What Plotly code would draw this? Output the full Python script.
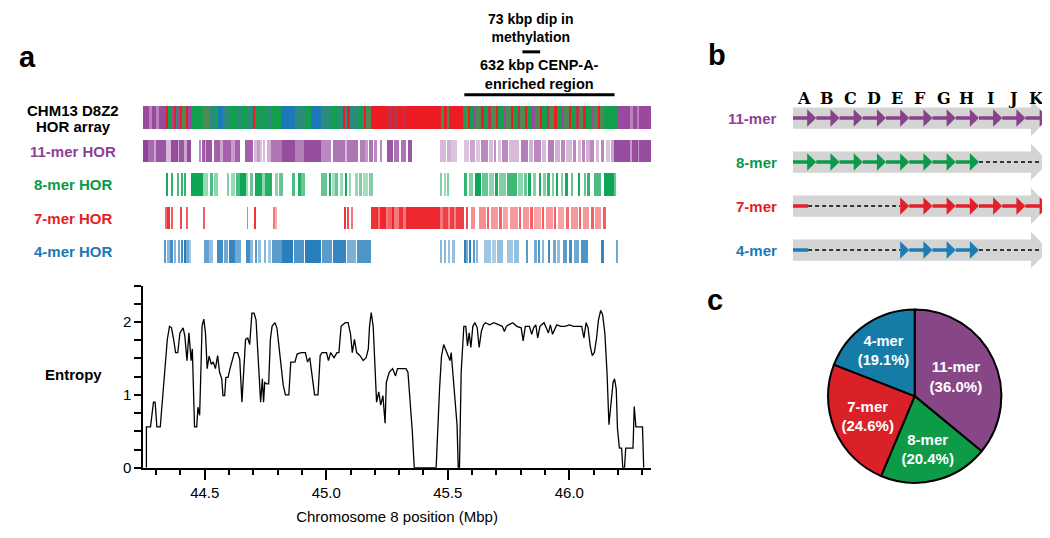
import numpy as np
import plotly.graph_objects as go

# ---------------------------------------------------------------- data
X_RANGE = [44.246, 46.336]          # Chromosome 8 position (Mbp)

entropy_pos = [
    44.260, 44.260, 44.277, 44.282, 44.289, 44.296, 44.303, 44.317, 44.329, 44.337,
    44.346, 44.355, 44.363, 44.372, 44.380, 44.389, 44.398, 44.411, 44.418, 44.427,
    44.435, 44.444, 44.449, 44.458, 44.467, 44.472, 44.479, 44.484, 44.489, 44.496,
    44.503, 44.510, 44.518, 44.527, 44.535, 44.544, 44.553, 44.561, 44.570, 44.575,
    44.582, 44.587, 44.596, 44.604, 44.613, 44.622, 44.635, 44.644, 44.653, 44.659,
    44.668, 44.677, 44.685, 44.694, 44.703, 44.711, 44.718, 44.725, 44.730, 44.737,
    44.742, 44.747, 44.756, 44.763, 44.770, 44.777, 44.789, 44.797, 44.806, 44.814,
    44.823, 44.832, 44.846, 44.854, 44.871, 44.880, 44.897, 44.914, 44.923, 44.932,
    44.944, 44.952, 44.966, 44.975, 44.983, 45.001, 45.009, 45.018, 45.032, 45.044,
    45.052, 45.061, 45.078, 45.090, 45.100, 45.107, 45.116, 45.125, 45.138, 45.152,
    45.164, 45.173, 45.178, 45.185, 45.193, 45.202, 45.207, 45.216, 45.224, 45.233,
    45.242, 45.247, 45.259, 45.273, 45.285, 45.293, 45.305, 45.319, 45.328, 45.336,
    45.345, 45.354, 45.362, 45.452, 45.466, 45.474, 45.483, 45.491, 45.500, 45.509,
    45.514, 45.521, 45.529, 45.538, 45.543, 45.548, 45.555, 45.566, 45.574, 45.581,
    45.588, 45.595, 45.603, 45.612, 45.621, 45.629, 45.638, 45.647, 45.655, 45.672,
    45.690, 45.707, 45.724, 45.733, 45.741, 45.750, 45.767, 45.784, 45.802, 45.810,
    45.819, 45.836, 45.845, 45.853, 45.862, 45.870, 45.879, 45.896, 45.914, 45.922,
    45.931, 45.948, 45.965, 45.982, 46.000, 46.017, 46.034, 46.051, 46.060, 46.069,
    46.077, 46.086, 46.094, 46.103, 46.112, 46.120, 46.129, 46.137, 46.146, 46.155,
    46.163, 46.172, 46.180, 46.186, 46.193, 46.198, 46.206, 46.215, 46.220, 46.227,
    46.232, 46.262, 46.267, 46.274, 46.301, 46.306,
]
entropy_val = [
    0.00, 0.56, 0.56, 0.75, 0.90, 0.90, 0.56, 0.56, 1.08, 1.31,
    1.76, 1.94, 1.92, 1.76, 1.58, 1.58, 1.85, 1.92, 1.81, 1.47,
    1.85, 1.47, 1.63, 0.56, 0.56, 0.83, 0.72, 1.31, 1.94, 2.04,
    1.85, 1.36, 1.53, 1.42, 1.45, 1.36, 1.54, 1.31, 1.22, 0.99,
    0.99, 1.24, 1.24, 1.36, 1.49, 1.58, 1.58, 1.49, 0.90, 1.31,
    1.76, 1.78, 1.69, 2.12, 2.12, 2.03, 1.58, 1.17, 0.90, 1.22,
    0.90, 1.17, 1.15, 1.15, 1.76, 1.94, 1.99, 1.92, 1.63, 1.40,
    1.13, 1.00, 1.00, 1.45, 1.45, 1.56, 1.58, 1.58, 1.45, 1.51,
    1.22, 1.00, 1.00, 1.54, 1.58, 1.58, 1.47, 1.58, 1.51, 1.58,
    1.58, 1.94, 1.99, 1.99, 1.83, 1.58, 1.76, 1.58, 1.54, 1.47,
    1.51, 1.63, 1.94, 2.13, 1.94, 1.13, 0.90, 1.04, 0.86, 0.99,
    0.61, 1.17, 1.31, 1.36, 1.26, 1.36, 1.36, 1.36, 1.36, 1.31,
    0.95, 0.50, 0.00, 0.00, 1.08, 1.53, 1.69, 1.63, 1.56, 1.47,
    1.58, 1.27, 0.86, 0.59, 0.00, 0.00, 1.31, 1.94, 1.94, 1.67,
    1.85, 1.65, 1.94, 1.99, 1.92, 1.65, 1.87, 1.96, 1.99, 1.96,
    1.99, 1.96, 1.94, 1.87, 1.94, 1.96, 1.99, 1.94, 1.92, 1.74,
    1.94, 1.94, 1.83, 1.92, 1.96, 1.78, 1.94, 1.99, 1.85, 1.96,
    1.83, 1.96, 1.94, 1.94, 1.96, 1.94, 1.94, 1.94, 1.78, 1.99,
    1.92, 1.67, 1.54, 1.58, 1.78, 2.03, 2.16, 2.10, 1.85, 1.31,
    0.59, 0.90, 1.17, 1.22, 1.08, 0.54, 0.27, 0.27, 0.00, 0.00,
    0.27, 0.27, 0.84, 0.56, 0.56, 0.00,
]

# Composite HOR array track: (start, end) in Mbp and HOR class key
array_start = [
    44.247, 44.274, 44.281, 44.301, 44.311, 44.342, 44.349, 44.363, 44.374, 44.381,
    44.390, 44.401, 44.407, 44.425, 44.432, 44.445, 44.493, 44.521, 44.541, 44.555,
    44.575, 44.603, 44.637, 44.651, 44.678, 44.699, 44.706, 44.726, 44.736, 44.760,
    44.771, 44.815, 44.870, 44.911, 44.938, 44.980, 45.021, 45.048, 45.069, 45.075,
    45.089, 45.096, 45.130, 45.144, 45.158, 45.165, 45.185, 45.253, 45.274, 45.280,
    45.294, 45.315, 45.328, 45.472, 45.486, 45.500, 45.506, 45.561,
    45.571, 45.585, 45.592, 45.610, 45.618, 45.640, 45.648, 45.668, 45.676, 45.700,
    45.707, 45.730, 45.738, 45.760, 45.768, 45.790, 45.798, 45.820, 45.827, 45.850,
    45.858, 45.880, 45.888, 45.910, 45.918, 45.940, 45.948, 45.970, 45.978, 46.000,
    46.008, 46.030, 46.038, 46.060, 46.068, 46.090, 46.098, 46.120, 46.128,
    46.144, 46.198, 46.253, 46.260, 46.281, 46.287,
]
array_end = [
    44.274, 44.281, 44.301, 44.311, 44.342, 44.349, 44.363, 44.374, 44.381, 44.390,
    44.401, 44.407, 44.425, 44.432, 44.445, 44.493, 44.521, 44.541, 44.555, 44.575,
    44.603, 44.637, 44.651, 44.678, 44.699, 44.706, 44.726, 44.736, 44.760, 44.771,
    44.815, 44.870, 44.911, 44.938, 44.980, 45.021, 45.048, 45.069, 45.075, 45.089,
    45.096, 45.130, 45.144, 45.158, 45.165, 45.185, 45.253, 45.274, 45.280, 45.294,
    45.315, 45.328, 45.472, 45.486, 45.500, 45.506, 45.561, 45.571,
    45.585, 45.592, 45.610, 45.618, 45.640, 45.648, 45.668, 45.676, 45.700, 45.707,
    45.730, 45.738, 45.760, 45.768, 45.790, 45.798, 45.820, 45.827, 45.850, 45.858,
    45.880, 45.888, 45.910, 45.918, 45.940, 45.948, 45.970, 45.978, 46.000, 46.008,
    46.030, 46.038, 46.060, 46.068, 46.090, 46.098, 46.120, 46.128, 46.144,
    46.198, 46.253, 46.260, 46.281, 46.287, 46.336,
]
array_type = [
    "P", "p", "P", "p", "P", "R", "G", "P", "R", "T",
    "P", "R", "g", "R", "P", "G", "g", "T", "G", "B",
    "T", "G", "T", "G", "T", "R", "G", "T", "G", "T",
    "G", "B", "T", "G", "B", "T", "G", "T", "R", "T",
    "R", "T", "G", "T", "R", "g", "R", "r", "R", "r",
    "R", "r", "R", "g", "R", "g", "R", "G",
    "g", "R", "G", "P", "g", "R", "G", "r", "g", "R",
    "G", "P", "g", "R", "G", "r", "g", "R", "G", "P",
    "g", "R", "G", "r", "g", "R", "G", "P", "g", "R",
    "G", "r", "g", "R", "G", "P", "g", "R", "g",
    "G", "P", "p", "P", "p", "P",
]

# 11-mer HOR track
hor11_start = [
    44.247, 44.267, 44.292, 44.301, 44.340, 44.363, 44.388, 44.395, 44.415, 44.425,
    44.477, 44.489, 44.500, 44.507, 44.538, 44.562, 44.577, 44.610, 44.623, 44.667,
    44.706, 44.719, 44.730, 44.741, 44.755, 44.774, 44.818, 44.870, 44.908, 44.980,
    45.027, 45.075, 45.085, 45.137, 45.163, 45.177, 45.199, 45.219, 45.251, 45.280,
    45.308, 45.338, 45.466, 45.495, 45.515, 45.568, 45.593, 45.616, 45.637, 45.668,
    45.689, 45.705, 45.722, 45.753, 45.801, 45.834, 45.856, 45.887, 45.911, 45.943,
    45.965, 45.987, 46.015, 46.034, 46.052, 46.070, 46.087, 46.108, 46.130, 46.149,
    46.171, 46.185, 46.250, 46.256, 46.281, 46.286,
]
hor11_end = [
    44.267, 44.292, 44.301, 44.340, 44.363, 44.388, 44.395, 44.415, 44.425, 44.445,
    44.482, 44.500, 44.507, 44.530, 44.562, 44.577, 44.610, 44.623, 44.644, 44.699,
    44.714, 44.726, 44.736, 44.749, 44.771, 44.818, 44.870, 44.908, 44.980, 45.021,
    45.075, 45.085, 45.130, 45.158, 45.171, 45.192, 45.207, 45.228, 45.275, 45.301,
    45.328, 45.352, 45.492, 45.512, 45.537, 45.589, 45.612, 45.634, 45.664, 45.685,
    45.700, 45.719, 45.749, 45.794, 45.828, 45.850, 45.883, 45.905, 45.938, 45.960,
    45.982, 46.009, 46.029, 46.048, 46.064, 46.083, 46.102, 46.124, 46.144, 46.168,
    46.182, 46.250, 46.256, 46.281, 46.286, 46.336,
]
hor11_alpha = [
    0.95, 0.75, 0.45, 0.85, 0.35, 0.90, 0.40, 0.85, 0.45, 0.90,
    0.60, 0.80, 0.40, 0.85, 0.80, 0.45, 0.80, 0.50, 0.80, 0.80,
    0.35, 0.50, 0.30, 0.35, 0.40, 0.70, 0.90, 0.65, 0.90, 0.60,
    0.70, 0.35, 0.70, 0.65, 0.50, 0.70, 0.60, 0.60, 0.85, 0.70,
    0.70, 0.85, 0.35, 0.40, 0.30, 0.30, 0.45, 0.30, 0.60, 0.35,
    0.55, 0.30, 0.60, 0.35, 0.65, 0.40, 0.60, 0.35, 0.65, 0.40,
    0.60, 0.35, 0.60, 0.35, 0.60, 0.40, 0.60, 0.35, 0.60, 0.30,
    0.45, 0.90, 0.50, 0.90, 0.50, 0.90,
]

# 8-mer HOR track
hor8_start = [
    44.341, 44.362, 44.389, 44.403, 44.416, 44.445, 44.493, 44.521, 44.538, 44.593,
    44.610, 44.630, 44.644, 44.671, 44.685, 44.708, 44.736, 44.749, 44.788, 44.804,
    44.859, 44.884, 44.897, 44.980, 44.996, 45.014, 45.025, 45.037, 45.055, 45.078,
    45.092, 45.117, 45.134, 45.152, 45.177, 45.472, 45.486, 45.500, 45.568, 45.589,
    45.612, 45.639, 45.671, 45.694, 45.709, 45.743, 45.790, 45.812, 45.834, 45.850,
    45.876, 45.894, 45.911, 45.927, 45.949, 45.965, 45.986, 46.009, 46.038, 46.061,
    46.075, 46.100, 46.144, 46.185,
]
hor8_end = [
    44.345, 44.366, 44.393, 44.410, 44.421, 44.493, 44.514, 44.534, 44.555, 44.599,
    44.626, 44.644, 44.671, 44.678, 44.699, 44.736, 44.747, 44.777, 44.801, 44.822,
    44.870, 44.897, 44.911, 44.993, 45.004, 45.021, 45.034, 45.048, 45.069, 45.086,
    45.103, 45.130, 45.147, 45.171, 45.192, 45.478, 45.491, 45.505, 45.579, 45.602,
    45.637, 45.664, 45.691, 45.705, 45.739, 45.785, 45.808, 45.826, 45.842, 45.861,
    45.883, 45.902, 45.919, 45.938, 45.954, 45.974, 45.993, 46.015, 46.045, 46.070,
    46.083, 46.130, 46.185, 46.193,
]
hor8_alpha = [
    0.90, 0.80, 0.70, 0.80, 0.80, 0.95, 0.40, 0.70, 0.45, 0.50,
    0.40, 0.70, 0.95, 0.40, 0.60, 0.90, 0.45, 0.85, 0.45, 0.60,
    0.70, 0.85, 0.60, 0.60, 0.60, 0.90, 0.35, 0.60, 0.40, 0.90,
    0.40, 0.40, 0.50, 0.35, 0.50, 0.50, 0.40, 0.50, 0.80, 0.50,
    0.95, 0.60, 0.45, 0.90, 0.50, 0.75, 0.45, 0.60, 0.90, 0.50,
    0.90, 0.50, 0.80, 0.50, 0.90, 0.50, 0.90, 0.60, 0.90, 0.60,
    0.80, 0.70, 0.95, 0.60,
]

# 7-mer HOR track
hor7_start = [
    44.337, 44.348, 44.363, 44.399, 44.425, 44.493, 44.674, 44.701, 44.779, 44.788,
    45.073, 45.086, 45.103, 45.185, 45.212, 45.219, 45.246, 45.253, 45.274, 45.280,
    45.301, 45.315, 45.328, 45.466, 45.479, 45.500, 45.511, 45.527, 45.534, 45.575,
    45.596, 45.630, 45.661, 45.678, 45.709, 45.726, 45.757, 45.791, 45.808, 45.839,
    45.856, 45.887, 45.904, 45.935, 45.952, 45.986, 46.007, 46.041, 46.057, 46.089,
    46.105, 46.141,
]
hor7_end = [
    44.341, 44.356, 44.370, 44.407, 44.432, 44.500, 44.678, 44.710, 44.788, 44.799,
    45.078, 45.092, 45.110, 45.212, 45.219, 45.246, 45.253, 45.274, 45.280, 45.301,
    45.315, 45.328, 45.466, 45.479, 45.500, 45.511, 45.527, 45.534, 45.568, 45.582,
    45.612, 45.657, 45.671, 45.705, 45.722, 45.746, 45.787, 45.801, 45.835, 45.849,
    45.883, 45.897, 45.931, 45.945, 45.979, 46.000, 46.034, 46.050, 46.082, 46.100,
    46.130, 46.149,
]
hor7_alpha = [
    0.70, 0.90, 0.70, 0.80, 0.70, 0.70, 0.60, 0.90, 0.60, 0.35,
    0.90, 0.80, 0.60, 0.90, 0.60, 0.95, 0.60, 0.70, 0.95, 0.60,
    0.90, 0.60, 0.95, 0.60, 0.85, 0.50, 0.85, 0.55, 0.85, 0.80,
    0.50, 0.50, 0.70, 0.45, 0.70, 0.40, 0.45, 0.70, 0.45, 0.70,
    0.40, 0.70, 0.45, 0.70, 0.40, 0.65, 0.45, 0.70, 0.45, 0.70,
    0.45, 0.70,
]

# 4-mer HOR track
hor4_start = [
    44.336, 44.345, 44.359, 44.374, 44.388, 44.401, 44.415, 44.426, 44.438, 44.497,
    44.519, 44.552, 44.579, 44.599, 44.626, 44.671, 44.688, 44.706, 44.721, 44.744,
    44.760, 44.777, 44.818, 44.866, 44.911, 44.982, 45.027, 45.086, 45.127, 45.472,
    45.486, 45.504, 45.517, 45.568, 45.578, 45.589, 45.602, 45.616, 45.650, 45.680,
    45.702, 45.743, 45.771, 45.822, 45.856, 45.870, 45.886, 45.911, 45.933, 45.949,
    45.972, 46.000, 46.020, 46.048, 46.130, 46.196,
]
hor4_end = [
    44.342, 44.356, 44.370, 44.379, 44.397, 44.411, 44.421, 44.434, 44.445, 44.516,
    44.534, 44.575, 44.596, 44.623, 44.651, 44.685, 44.699, 44.716, 44.730, 44.753,
    44.774, 44.818, 44.863, 44.908, 44.980, 45.023, 45.082, 45.123, 45.185, 45.478,
    45.493, 45.511, 45.531, 45.574, 45.585, 45.596, 45.612, 45.623, 45.678, 45.698,
    45.726, 45.767, 45.794, 45.828, 45.867, 45.881, 45.897, 45.922, 45.945, 45.963,
    45.990, 46.013, 46.041, 46.075, 46.144, 46.200,
]
hor4_alpha = [
    0.70, 0.50, 0.80, 0.50, 0.60, 0.80, 0.90, 0.60, 0.40, 0.65,
    0.45, 0.80, 0.60, 0.85, 0.60, 0.80, 0.50, 0.70, 0.45, 0.50,
    0.40, 0.70, 0.90, 0.75, 0.90, 0.70, 0.85, 0.55, 0.75, 0.50,
    0.50, 0.45, 0.45, 0.90, 0.60, 0.90, 0.70, 0.50, 0.40, 0.35,
    0.45, 0.40, 0.45, 0.70, 0.60, 0.75, 0.50, 0.80, 0.60, 0.45,
    0.70, 0.80, 0.60, 0.75, 0.85, 0.60,
]

cenpa_region = [45.568, 46.186]     # 632 kbp CENP-A-enriched region
methyl_dip = [45.807, 45.880]       # 73 kbp dip in methylation

track_labels = ["11-mer HOR", "8-mer HOR", "7-mer HOR", "4-mer HOR"]

# panel b: HOR structures
monomers = list("ABCDEFGHIJK")
b_rows = ["11-mer", "8-mer", "7-mer", "4-mer"]
b_units = ["ABCDEFGHIJK", "ABCDEFGH", "EFGHIJK", "EFGH"]
b_stub = [0.0, 0.0, 0.65, 0.65]
b_gaps = [[], [(8, 11)], [(0.65, 4.61)], [(0.65, 4.61), (8, 11)]]

# panel c: pie
pie_labels = ["11-mer", "8-mer", "7-mer", "4-mer"]
pie_values = [36.0, 20.4, 24.6, 19.1]

# ---------------------------------------------------------------- styles
FONT = "Liberation Sans, Arial, Helvetica, sans-serif"
TRACK_COL = ["#8B3A94", "#00A14B", "#ED1C24", "#1270B5"]
LABEL_COL = ["#8E3F96", "#0A9A47", "#E41E26", "#1F78B4"]
ARRAY_COL = {"P": "#9A4A9E", "p": "#B983BC", "G": "#12A04C", "g": "#4E8A52",
             "R": "#ED1C24", "r": "#B8354D", "B": "#1C78BA", "T": "#2A8C7A"}
B_COL = ["#874289", "#0A9A48", "#E3202A", "#1B7DB1"]
PIE_COL = ["#874786", "#0D9B48", "#D92127", "#157CA8"]

W, H = 1050, 538
def px(x):
    return x / W
def py(y):
    return 1 - y / H

fig = go.Figure()

# ---------------------------------------------------------------- tracks
def track(row, starts, ends, color, alpha):
    s = np.array(starts)
    e = np.array(ends)
    return go.Bar(orientation="h", y=[row] * len(s), x=e - s, base=s, width=0.68,
                  marker=dict(color=color, opacity=alpha, line=dict(width=0)),
                  xaxis="x", yaxis="y", hoverinfo="skip", showlegend=False)

fig.add_trace(track(0, array_start, array_end, [ARRAY_COL[k] for k in array_type], 1.0))
fig.add_trace(track(1, hor11_start, hor11_end, TRACK_COL[0], hor11_alpha))
fig.add_trace(track(2, hor8_start, hor8_end, TRACK_COL[1], hor8_alpha))
fig.add_trace(track(3, hor7_start, hor7_end, TRACK_COL[2], hor7_alpha))
fig.add_trace(track(4, hor4_start, hor4_end, TRACK_COL[3], hor4_alpha))

# ---------------------------------------------------------------- entropy
fig.add_trace(go.Scatter(x=entropy_pos, y=entropy_val, mode="lines",
                         line=dict(color="black", width=1.3),
                         xaxis="x2", yaxis="y2", hoverinfo="skip", showlegend=False))

# ---------------------------------------------------------------- pie
fig.add_trace(go.Pie(labels=pie_labels, values=pie_values, sort=False,
                     direction="clockwise", rotation=0,
                     marker=dict(colors=PIE_COL, line=dict(color="black", width=2)),
                     texttemplate="<b>%{label}<br>(%{percent:.1%})</b>",
                     textposition="inside", insidetextorientation="horizontal",
                     textfont=dict(family=FONT, size=15, color="white"),
                     domain=dict(x=[px(906.7 - 88), px(906.7 + 88)],
                                 y=[py(394 + 88), py(394 - 88)]),
                     hoverinfo="skip", showlegend=False))

shapes = []
annotations = []

# top annotations (lines)
for rng, ylin in [(cenpa_region, 88), (methyl_dip, 44.5)]:
    shapes.append(dict(type="line", xref="x", yref="paper", x0=rng[0], x1=rng[1],
                       y0=py(ylin), y1=py(ylin), line=dict(color="black", width=3)))

def txt(text, x, y, size=15, color="black", bold=True, xref="paper", yref="paper",
        xanchor="center", family=FONT):
    annotations.append(dict(text=("<b>%s</b>" % text) if bold else text, x=x, y=y,
                            xref=xref, yref=yref, xanchor=xanchor, yanchor="middle",
                            showarrow=False, font=dict(family=family, size=size, color=color)))

mid_dip = sum(methyl_dip) / 2
mid_cen = sum(cenpa_region) / 2
txt("73 kbp dip in<br>methylation", mid_dip, py(20.5), size=14, xref="x")
txt("632 kbp CENP-A-<br>enriched region", mid_cen, py(67), size=14.5, xref="x")

txt("a", px(19), py(50), size=29)
txt("b", px(709), py(48), size=29)
txt("c", px(707), py(296), size=29)

txt("CHM13 D8Z2", px(65), py(104))
txt("HOR array", px(65), py(120))
for i, lab in enumerate(track_labels):
    txt(lab, px(65), i + 1, color=LABEL_COL[i], yref="y")
txt("Entropy", px(65), py(372))

# ---------------------------------------------------------------- panel b
BODY_END, BODY_H, HEAD_H = 10.24, 0.242, 0.414
AH_LEN, AH_H = 0.39, 0.2
for r in range(len(b_rows)):
    shapes.append(dict(type="path", xref="x3", yref="y3", layer="above",
                       path=(f"M 0,{r - BODY_H} L {BODY_END},{r - BODY_H} L {BODY_END},{r - HEAD_H} "
                             f"L 11,{r} L {BODY_END},{r + HEAD_H} L {BODY_END},{r + BODY_H} "
                             f"L 0,{r + BODY_H} Z"),
                       fillcolor="#D4D4D4", line=dict(width=0)))
for r, name in enumerate(b_rows):
    col = B_COL[r]
    txt(name, px(771), r, color=LABEL_COL[r], yref="y3", xanchor="right")
    for (g0, g1) in b_gaps[r]:
        shapes.append(dict(type="line", xref="x3", yref="y3", x0=g0, x1=g1, y0=r, y1=r,
                           line=dict(color="black", width=1.6, dash="4px,3px")))
    if b_stub[r] > 0:
        shapes.append(dict(type="line", xref="x3", yref="y3", x0=0, x1=b_stub[r], y0=r, y1=r,
                           line=dict(color=col, width=3.5)))
    for k, ch in enumerate(b_units[r]):
        i = monomers.index(ch)
        hb = i + 1 - AH_LEN
        s0 = i
        if k == 0 and b_stub[r] > 0:
            s0 = hb
        if hb > s0:
            shapes.append(dict(type="line", xref="x3", yref="y3", x0=s0, x1=hb + 0.05,
                               y0=r, y1=r, line=dict(color=col, width=3.5)))
        shapes.append(dict(type="path", xref="x3", yref="y3",
                           path=f"M {hb},{r - AH_H} L {i + 1},{r} L {hb},{r + AH_H} Z",
                           fillcolor=col, line=dict(width=0)))

for i, m in enumerate(monomers):
    txt(m, i + 0.48, py(91.5), size=16, xref="x3",
        family="DejaVu Serif, Liberation Serif, serif")

# ---------------------------------------------------------------- layout
axis_common = dict(color="black", tickfont=dict(family=FONT, size=15, color="black"))
fig.update_layout(
    width=W, height=H, margin=dict(l=0, r=0, t=0, b=0),
    paper_bgcolor="white", plot_bgcolor="white",
    barmode="overlay", bargap=0, showlegend=False,
    font=dict(family=FONT),
    xaxis=dict(domain=[px(135), px(643)], range=X_RANGE, visible=False, anchor="y",
               fixedrange=True),
    yaxis=dict(domain=[py(264.05), py(94.55)], range=[4.5, -0.5], visible=False,
               anchor="x", fixedrange=True),
    xaxis2=dict(domain=[px(135), px(643)], range=X_RANGE, anchor="y2",
                showline=True, linewidth=1.5, linecolor="black", showgrid=False,
                zeroline=False, ticks="outside", ticklen=10, tickwidth=1.5,
                tickcolor="black", tick0=44.5, dtick=0.5, tickformat=".1f",
                minor=dict(ticks="outside", ticklen=5, tickwidth=1.5, tickcolor="black",
                           tick0=44.0, dtick=0.1, showgrid=False),
                title=dict(text="Chromosome 8 position (Mbp)",
                           font=dict(family=FONT, size=15, color="black"), standoff=12),
                **axis_common),
    yaxis2=dict(domain=[py(466.7), py(281.7)], range=[0, 2.5], anchor="x2",
                showline=True, linewidth=1.5, linecolor="black", showgrid=False,
                zeroline=False, ticks="outside", ticklen=7, tickwidth=1.5,
                tickcolor="black", tick0=0, dtick=1,
                minor=dict(ticks="outside", ticklen=7, tickwidth=1.5, tickcolor="black",
                           tick0=0, dtick=0.25, showgrid=False),
                **axis_common),
    xaxis3=dict(domain=[px(785), px(1040.7)], range=[0, 11], visible=False, anchor="y3"),
    yaxis3=dict(domain=[py(268.03), py(89.37)], range=[3.5, -0.5], visible=False,
                anchor="x3"),
    shapes=shapes,
    annotations=annotations,
)

fig.write_html("out.html")
